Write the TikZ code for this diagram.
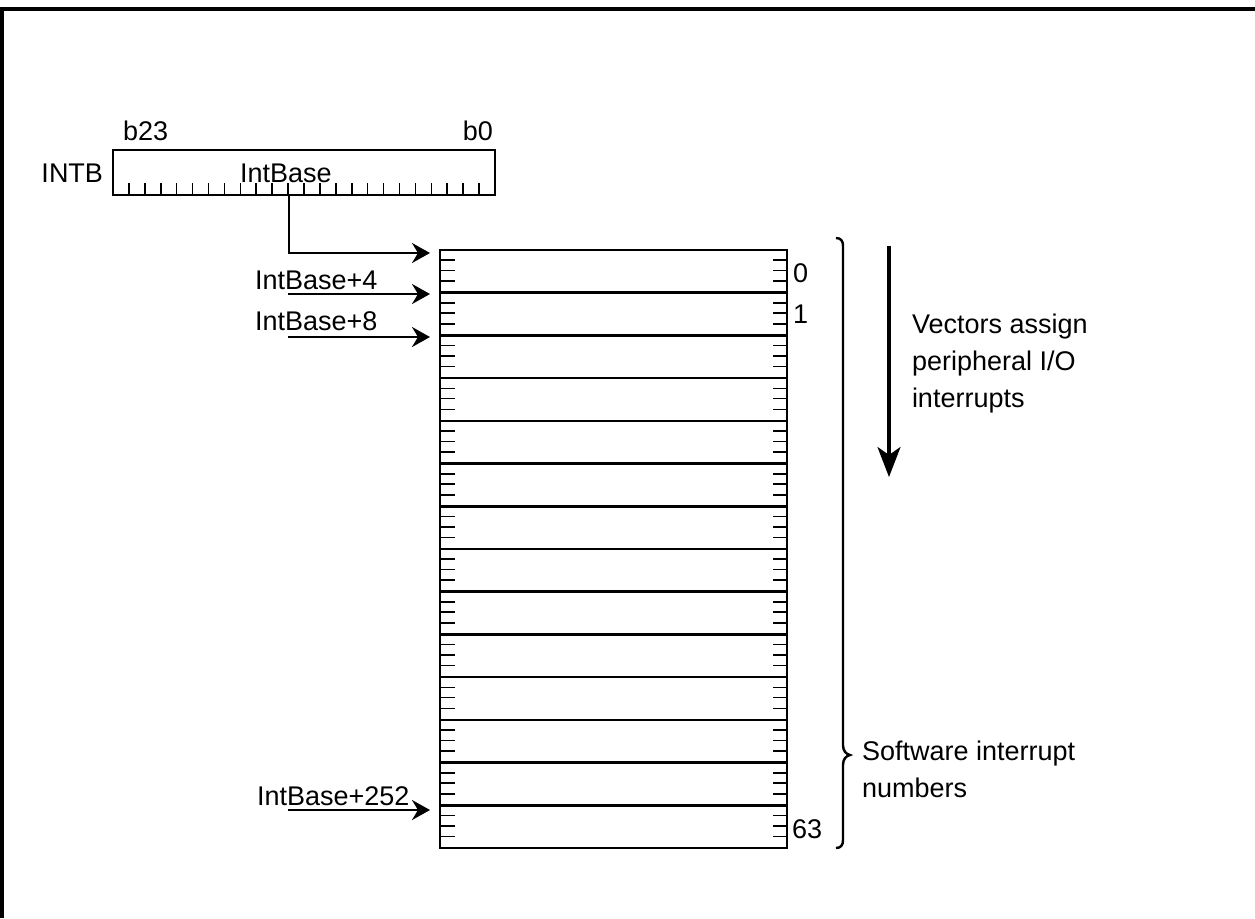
\documentclass[tikz,border=0pt]{standalone}
\usepackage{fontspec}
\setmainfont{Liberation Sans}
\usetikzlibrary{arrows.meta,calc}
\tikzset{
  rowbox/.style={draw, line width=1.3pt, minimum width=173.5pt, minimum height=21.357pt, inner sep=0pt, outer sep=0pt},
  tickline/.style={line width=0.8pt},
  ptr/.style={line width=1.3pt, -{Stealth[length=9pt,width=10pt,inset=3pt]}},
  bigptr/.style={line width=1.6pt, -{Stealth[length=15pt,width=11.5pt,inset=4pt]}},
  txt/.style={inner sep=0pt, outer sep=0pt, font=\fontsize{13.5}{16}\selectfont},
}
\begin{document}
\begin{tikzpicture}[x=0.5pt,y=-0.5pt]
\useasboundingbox (0,0) rectangle (1255,918);
% frame
\draw[line width=1.6pt] (1255,9) -- (2,9) -- (2,918);
% register
\node[draw, line width=1.3pt, minimum width=191pt, minimum height=22.5pt, inner sep=0pt, outer sep=0pt] (intb) at (304,172.5) {};
\foreach \k in {1,...,23}
  \draw[tickline] ($(intb.south west)!\k/24!(intb.south east)$) -- ++(0,-12);
\node[txt, anchor=base west] (ib) at (240,182) {IntBase};
\node[txt, anchor=base east] (intbl) at (103,182) {INTB};
\node[txt, anchor=base west] (b23) at (123,140) {b23};
\node[txt, anchor=base east] (b0) at (493,140) {b0};
% table rows
\foreach \i in {0,...,13}
  \node[rowbox] (r\i) at (613.5,{250+42.714*(\i+0.5)}) {};
\foreach \i in {0,...,13}{
  \foreach \f in {0.24,0.48,0.73}{
    \draw[tickline] ($(r\i.north west)!\f!(r\i.south west)$) -- ++(15,0);
    \draw[tickline] ($(r\i.north east)!\f!(r\i.south east)$) -- ++(-14,0);
  }
}
\node[txt, anchor=base west] (n0) at (793,282) {0};
\node[txt, anchor=base west] (n1) at (793,323) {1};
\node[txt, anchor=base west] (n63) at (792,838) {63};
% pointers
\draw[ptr] ([xshift=-7.5pt]intb.south) |- ([xshift=-5pt,yshift=-1.5pt]r0.north west);
\node[txt, anchor=base west] (l4) at (255,289) {IntBase+4};
\node[txt, anchor=base west] (l8) at (255,330) {IntBase+8};
\node[txt, anchor=base west] (l252) at (257,805) {IntBase+252};
\coordinate (s4) at (288,294);
\coordinate (s8) at (288,337);
\coordinate (s252) at (288,810);
\draw[ptr, shorten >=5pt] (s4) -- (s4 -| r1.west);
\draw[ptr, shorten >=5pt] (s8) -- (s8 -| r2.west);
\draw[ptr, shorten >=5pt] (s252) -- (s252 -| r13.west);
% brace
\draw[line width=1.2pt] (836,238) .. controls (841,238) and (843,241) .. (843,246)
  -- (843,745) .. controls (843,751) and (846,754) .. (850,755)
  .. controls (846,756) and (843,759) .. (843,765)
  -- (843,840) .. controls (843,845) and (841,848) .. (836,848);
\node[txt, anchor=base west] (sw1) at (862,760) {Software interrupt};
\node[txt, anchor=base west] (sw2) at (862,797) {numbers};
% vertical arrow
\coordinate (va) at (889,246);
\coordinate (vb) at (889,477);
\draw[bigptr] (va) -- (vb);
\node[txt, anchor=base west] (v1) at (912,333) {Vectors assign};
\node[txt, anchor=base west] (v2) at (912,370) {peripheral I/O};
\node[txt, anchor=base west] (v3) at (912,407) {interrupts};
\end{tikzpicture}
\end{document}
